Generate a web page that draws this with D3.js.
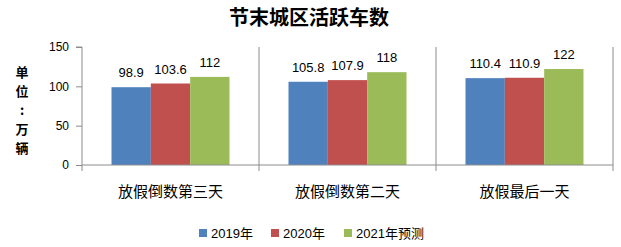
<!DOCTYPE html>
<html>
<head>
<meta charset="utf-8">
<script src="https://cdn.jsdelivr.net/npm/d3@7"></script>
<style>
body{margin:0;background:#fff}
text{font-family:"Liberation Sans","Noto Sans CJK SC",sans-serif}
</style>
</head>
<body>
<svg class="chart"></svg>
<script>
let categories=['放假倒数第三天','放假倒数第二天','放假最后一天']
let seriesNames=['2019年','2020年','2021年预测']
let v2019=[98.9,105.8,110.4]
let v2020=[103.6,107.9,110.9]
let v2021=[112,118,122]
let yTicks=[0,50,100,150]
let colors=['#4F81BD','#C0504D','#9BBB59']

let width=621,height=247
let margin={top:47,left:82,right:8,bottom:82}
let svg=d3.select('.chart').attr('width',width).attr('height',height)

let series=[v2019,v2020,v2021]

let x0=d3.scaleBand().domain(categories).range([margin.left,width-margin.right])
let x1=d3.scaleBand().domain(seriesNames).range([0,x0.bandwidth()]).paddingOuter(0.75)
let y=d3.scaleLinear().domain([0,150]).range([height-margin.bottom,margin.top])

// title
svg.append('text')
   .attr('x',309).attr('y',25)
   .attr('text-anchor','middle')
   .style('font-family','"Noto Sans CJK SC"')
   .style('font-weight','bold')
   .style('font-size','20px')
   .text('节末城区活跃车数')

// y axis title, stacked one char per line
let ytitle='单位：万辆'.split('')
ytitle.forEach((c,i)=>{
    svg.append('text')
       .attr('x',22).attr('y',77+i*19)
       .attr('text-anchor','middle')
       .style('font-family','"Noto Sans CJK SC"')
       .style('font-weight','bold')
       .style('font-size','13px')
       .text(c==='：'?':':c)
})

// vertical separators between categories
let bounds=categories.map(c=>x0(c)).concat([x0.range()[1]])
svg.selectAll('.sep')
   .data(bounds.slice(1))
   .join('line')
   .attr('x1',d=>d).attr('x2',d=>d)
   .attr('y1',margin.top).attr('y2',y(0)+6)
   .attr('stroke','#8c8c8c').attr('stroke-width',1)
svg.append('line')
   .attr('x1',margin.left).attr('x2',margin.left)
   .attr('y1',y(0)).attr('y2',y(0)+6)
   .attr('stroke','#8c8c8c')

// bars
categories.forEach((c,ci)=>{
    seriesNames.forEach((s,si)=>{
        let v=series[si][ci]
        svg.append('rect')
           .attr('x',x0(c)+x1(s))
           .attr('y',y(v))
           .attr('width',x1.bandwidth())
           .attr('height',y(0)-y(v))
           .attr('fill',colors[si])
        svg.append('text')
           .attr('x',x0(c)+x1(s)+x1.bandwidth()/2)
           .attr('y',y(v)-10)
           .attr('text-anchor','middle')
           .style('font-size','13px')
           .text(v)
    })
})

// y axis
let yaxis=svg.append('g').attr('transform',`translate(${margin.left},0)`)
   .call(d3.axisLeft(y).tickValues(yTicks).tickSize(6).tickPadding(7))
yaxis.selectAll('path,line').attr('stroke','#8c8c8c')
yaxis.select('.domain').attr('d',`M-6,${y(150)}H0V${y(0)}`)
yaxis.selectAll('text').style('font-size','12px').style('font-family','"Liberation Sans"').attr('fill','#000')

// x axis baseline
svg.append('line')
   .attr('x1',margin.left).attr('x2',width-margin.right)
   .attr('y1',y(0)).attr('y2',y(0))
   .attr('stroke','#8c8c8c')

// category labels
svg.selectAll('.cat')
   .data(categories)
   .join('text')
   .attr('x',d=>x0(d)+x0.bandwidth()/2)
   .attr('y',197)
   .attr('text-anchor','middle')
   .style('font-family','"Noto Sans CJK SC"')
   .style('font-size','15px')
   .text(d=>d)

// legend
let lgdX=[199,271,344]
seriesNames.forEach((s,i)=>{
    svg.append('rect')
       .attr('x',lgdX[i]).attr('y',229)
       .attr('width',8).attr('height',8)
       .attr('fill',colors[i])
    svg.append('text')
       .attr('x',lgdX[i]+12).attr('y',238)
       .style('font-size','13px')
       .text(s)
})
</script>
</body>
</html>
